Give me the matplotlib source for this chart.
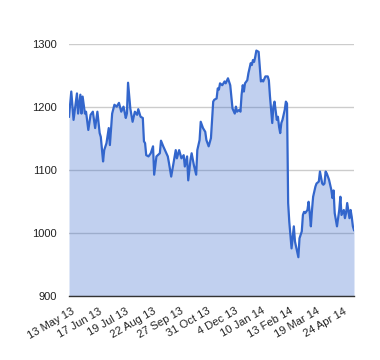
import numpy as np
import matplotlib
matplotlib.use('Agg')
import matplotlib.pyplot as plt

plt.rcParams['font.family'] = ['Liberation Sans', 'DejaVu Sans']

# trading day index (0 = 13 May 13) and closing value
days = [-2, 0, 2, 5, 6, 8, 9, 10, 12, 13, 15, 17, 19, 21, 23, 25, 26, 28, 29, 31,
        33, 34, 36, 38, 40, 42, 44, 46, 48, 49, 50, 52, 54, 56, 58, 59, 61, 63, 64, 65,
        66, 68, 70, 72, 73, 75, 78, 79, 81, 83, 85, 86, 88, 90, 92, 93, 95,
        97, 99, 100, 102, 103, 105, 106, 108, 110, 111, 113, 114, 116, 118, 119, 121, 123,
        125, 126, 128, 129, 130, 131, 133, 135, 136, 138, 140, 141, 142, 144, 145, 146,
        148, 149, 150, 151, 152, 153, 155, 156, 158, 159, 160, 161, 162, 163, 165, 166,
        167, 168, 169, 171, 173, 174, 175, 177, 178, 179, 181, 182, 183, 184, 185, 186,
        188, 189, 190,
        191, 192, 194, 196, 197, 200, 201, 203, 204, 205, 206, 208, 209, 210, 211, 212,
        213, 215, 216, 218, 219, 221, 222, 223, 224, 225, 227, 229, 230, 231, 232, 234,
        236, 237, 238, 240, 241, 242, 243, 245, 246, 247, 248, 249]
price = [1185, 1225, 1180, 1222, 1190, 1220, 1190, 1217, 1190, 1193, 1164, 1188, 1193, 1167,
         1193, 1159, 1153, 1114, 1132, 1143, 1167, 1140, 1190, 1204, 1201, 1207, 1193, 1201,
         1183, 1190, 1239, 1198, 1177, 1193, 1188, 1197, 1185, 1183, 1146, 1143, 1124, 1122,
         1127, 1138, 1093, 1122, 1127, 1147, 1138, 1130, 1122, 1112, 1090, 1111, 1132, 1119,
         1132,
         1119, 1124, 1106, 1122, 1084, 1117, 1127, 1108, 1093, 1132, 1148, 1177, 1167, 1161,
         1148, 1138, 1151, 1209, 1212, 1214, 1230, 1228, 1238, 1235, 1241, 1238, 1246, 1235,
         1217, 1198, 1190, 1201, 1193, 1196, 1193, 1220, 1235, 1225, 1238, 1243, 1254, 1270,
         1267, 1275, 1272, 1280, 1290, 1288, 1265, 1241, 1243, 1241, 1249, 1249, 1243, 1217,
         1175, 1201, 1209, 1180, 1185, 1169, 1159, 1175, 1180, 1196, 1209, 1206,
         1048, 1018, 976, 1011, 987, 962, 992, 1003, 1029, 1034, 1032, 1037, 1050, 1032,
         1011, 1037, 1058, 1074, 1079, 1082, 1098, 1079, 1077, 1079, 1098, 1095, 1085, 1069,
         1056, 1068, 1032, 1011, 1037, 1058, 1029, 1037, 1024, 1032, 1048, 1024, 1037, 1026,
         1011, 1005]

tick_days = [0, 24, 48, 72, 96, 120, 144, 168, 192, 216, 240]
tick_labels = ['13 May 13', '17 Jun 13', '19 Jul 13', '22 Aug 13', '27 Sep 13',
               '31 Oct 13', '4 Dec 13', '10 Jan 14', '13 Feb 14', '19 Mar 14', '24 Apr 14']

fig = plt.figure(figsize=(3.8, 3.6), dpi=100)
ax = fig.add_axes([0.1816, 0.177, 0.75, 0.7])

ax.set_axisbelow(True)
ax.grid(axis='y', color='#cccccc', linewidth=1)
ax.fill_between(days, price, 900, color='#3366cc', alpha=0.3, linewidth=0)
ax.plot(days, price, color='#3366cc', linewidth=1.6, solid_joinstyle='round')

ax.set_xlim(-2, 249)
ax.set_ylim(900, 1300)
ax.set_yticks([900, 1000, 1100, 1200, 1300])
ax.set_xticks(tick_days)
ax.set_xticklabels(tick_labels, rotation=30, ha='right', va='top', rotation_mode='anchor')

for s in ['top', 'left', 'right']:
    ax.spines[s].set_visible(False)
ax.spines['bottom'].set_color('#333333')
ax.spines['bottom'].set_linewidth(1)
ax.tick_params(axis='y', length=0, pad=9, labelsize=8, labelcolor='#222222')
ax.tick_params(axis='x', length=0, pad=7, labelsize=8, labelcolor='#222222')

fig.savefig('out.png', dpi=100)
